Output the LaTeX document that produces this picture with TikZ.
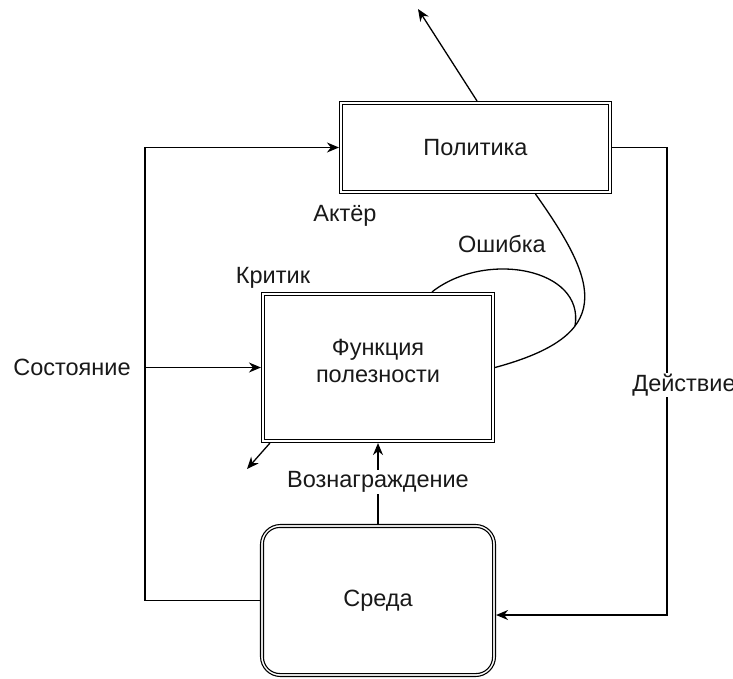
\documentclass[tikz,border=0pt]{standalone}
\usepackage{fontspec}
\setmainfont{Liberation Sans}
\usetikzlibrary{arrows.meta,calc}
\begin{document}
\begin{tikzpicture}[x=1pt,y=-1pt,
  every node/.style={font=\fontsize{23.5}{27}\selectfont, text=black!90},
  box/.style={draw, line width=1.1pt, fill=white, align=center, inner sep=0pt},
  inner/.style={line width=1.1pt},
  conn/.style={line width=1.3pt},
  arr/.style={conn, -{Stealth[length=12pt,width=10pt]}},
  lbl/.style={fill=white, inner sep=1pt}]
\useasboundingbox (0,0) rectangle (733,679);

\node[box, minimum width=272pt, minimum height=92pt] (pol) at (475.5,147.5) {Политика};
\node[box, minimum width=233pt, minimum height=150pt, text depth=14pt] (crit) at (378,367.5) {Функция\\полезности};
\node[box, rounded corners=20pt, minimum width=235pt, minimum height=152pt] (env) at (378,600.5) {Среда};
\draw[inner] ($(pol.north west)+(3.5,3.5)$) rectangle ($(pol.south east)+(-3.5,-3.5)$);
\draw[inner] ($(crit.north west)+(3.5,3.5)$) rectangle ($(crit.south east)+(-3.5,-3.5)$);
\draw[inner, rounded corners=16.5pt] ($(env.north west)+(3.5,3.5)$) rectangle ($(env.south east)+(-3.5,-3.5)$);

\coordinate (cBL) at (145,600.5);
\coordinate (cTL) at (145,147.5);
\coordinate (cS) at (145,367.5);
\coordinate (cTR) at (667,147.5);
\coordinate (cBR) at (667,615);
\coordinate (cTop) at (418,9);
\coordinate (cDown) at (247,469);
\coordinate (cMerge) at (575,326);

% state loop
\draw[arr] (env.west) -- (cBL) -- (cTL) -- (pol.west);
\node[lbl] (sost) at (72,367.5) {Состояние};
\draw[arr] (cS) -- (crit.west);

% action loop
\draw[arr] (pol.east) -- (cTR) -- (cBR) -- (env.east |- cBR);
\node[lbl] (deyst) at (684,385) {Действие};

% reward
\draw[arr] (env.north) -- (crit.south);
\node[lbl] (rew) at (378,482) {Вознаграждение};

% policy output
\draw[arr] ($(pol.north)+(1.5,0)$) -- (cTop);

% critic output
\draw[arr] ($(crit.south west)+(9,0)$) -- (cDown);

% error curves
\draw[conn] (crit.east) .. controls (615,335) and (600,285) .. ($(pol.south)+(60,0)$);
\draw[conn] ($(crit.north)+(54,0)$) .. controls (485,250) and (585,268) .. (cMerge);

\node (actor) at (345,216) {Актёр};
\node (err) at (502,244) {Ошибка};
\node (critl) at (273,278) {Критик};
\end{tikzpicture}
\end{document}
